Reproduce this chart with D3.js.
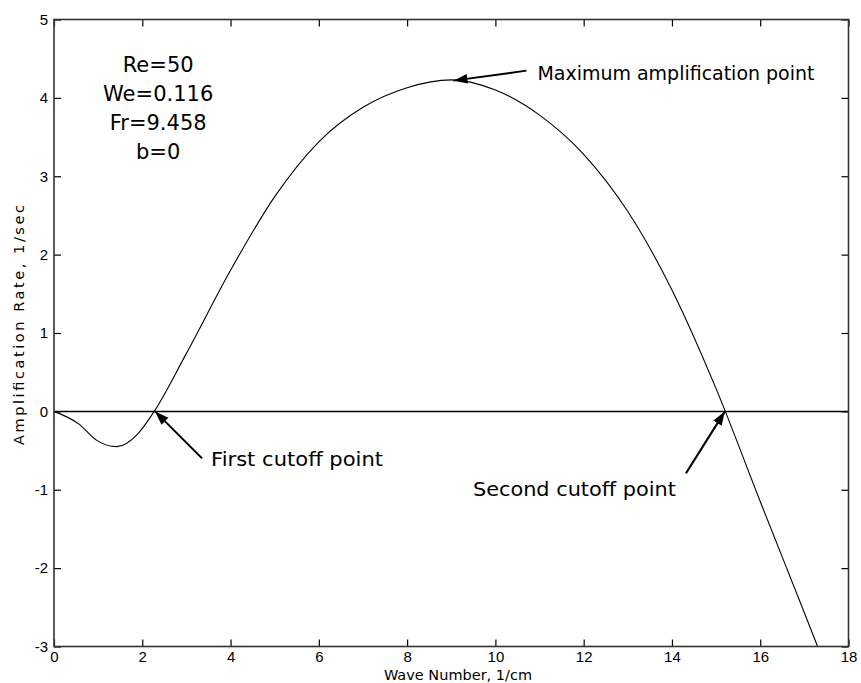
<!DOCTYPE html>
<html>
<head>
<meta charset="utf-8">
<script src="https://cdn.jsdelivr.net/npm/d3@7.9.0/dist/d3.min.js"></script>
<style>
  body { margin: 0; background: #fff; }
  svg { display: block; }
  .tick text { font-family: "Liberation Sans", Arial, sans-serif; font-size: 15px; fill: #000; }
  .note { font-family: "DejaVu Sans", sans-serif; fill: #000; }
  .title { font-family: "DejaVu Sans", sans-serif; font-size: 14.5px; fill: #000; }
</style>
</head>
<body>
<svg id="chart" width="861" height="683"></svg>
<script>
// wave number (1/cm) vs amplification rate (1/sec)
const waveNumber = [0, 0.56, 0.97, 1.42, 1.91, 2.27, 3, 4, 5, 6, 7, 8, 9, 10,
  11, 12, 13, 14, 15, 16, 17, 17.3];
const ampRate = [0, -0.16, -0.37, -0.45, -0.28, 0, 0.74, 1.80, 2.74, 3.44, 3.88, 4.13, 4.23, 4.10,
  3.78, 3.28, 2.55, 1.55, 0.29, -1.15, -2.57, -3.0];

const xTicks = [0, 2, 4, 6, 8, 10, 12, 14, 16, 18];
const yTicks = [-3, -2, -1, 0, 1, 2, 3, 4, 5];

const params = ['Re=50', 'We=0.116', 'Fr=9.458', 'b=0'];

// annotated points: label, arrow tip (data), tail offset (px), label offset from tip (px)
const notes = [
  { text: 'Maximum amplification point', x: 9.05, y: 4.22, tail: [73, -10], label: [84, -1], size: 19, len: 277 },
  { text: 'First cutoff point', x: 2.29, y: 0, tail: [47, 47], label: [56, 55], size: 20, len: 172 },
  { text: 'Second cutoff point', x: 15.2, y: 0, tail: [-39, 62], label: [-252, 85], size: 20, len: 203 }
];

const svg = d3.select('#chart');
const margin = { top: 19.5, right: 12.5, bottom: 36.5, left: 54 };
const width = 861 - margin.left - margin.right;
const height = 683 - margin.top - margin.bottom;

const g = svg.append('g').attr('transform', `translate(${margin.left},${margin.top})`);

const x = d3.scaleLinear().domain([0, 18]).range([0, width]);
const y = d3.scaleLinear().domain([-3, 5]).range([height, 0]);

// zero line
g.append('line')
  .attr('x1', x(0)).attr('x2', x(18))
  .attr('y1', y(0)).attr('y2', y(0))
  .attr('stroke', '#000').attr('stroke-width', 1.5);

// curve
const line = d3.line()
  .x((d, i) => x(waveNumber[i]))
  .y(d => y(d))
  .curve(d3.curveMonotoneX);

g.append('path')
  .datum(ampRate)
  .attr('d', line)
  .attr('fill', 'none')
  .attr('stroke', '#000')
  .attr('stroke-width', 1.1);

// axes (ticks inward, mirrored on top/right)
const axisStyle = sel => {
  sel.select('.domain').remove();
  sel.selectAll('.tick line').attr('stroke', '#000').attr('stroke-width', 1.2);
};
const plain = d => String(d); // keep ascii hyphen for negatives

g.append('g')
  .attr('transform', `translate(0,${height})`)
  .call(d3.axisBottom(x).tickValues(xTicks).tickFormat(plain).tickSizeInner(-7).tickSizeOuter(0).tickPadding(5))
  .call(axisStyle);

g.append('g')
  .call(d3.axisTop(x).tickValues(xTicks).tickSizeInner(-7).tickFormat(''))
  .call(axisStyle);

g.append('g')
  .call(d3.axisLeft(y).tickValues(yTicks).tickFormat(plain).tickSizeInner(-7).tickPadding(6))
  .call(axisStyle);

g.append('g')
  .attr('transform', `translate(${width},0)`)
  .call(d3.axisRight(y).tickValues(yTicks).tickSizeInner(-7).tickFormat(''))
  .call(axisStyle);

g.selectAll('.tick text').attr('fill', '#000');

// frame
g.append('rect')
  .attr('width', width).attr('height', height)
  .attr('fill', 'none')
  .attr('stroke', '#333').attr('stroke-width', 1.6);

// axis titles
svg.append('text')
  .attr('class', 'title')
  .attr('x', 458)
  .attr('y', 680)
  .attr('text-anchor', 'middle')
  .text('Wave Number, 1/cm');

svg.append('text')
  .attr('class', 'title')
  .attr('transform', `translate(24,325) rotate(-90)`)
  .attr('text-anchor', 'middle')
  .attr('textLength', 240)
  .attr('lengthAdjust', 'spacing')
  .text('Amplification Rate, 1/sec');

// parameter block
g.append('g').selectAll('text')
  .data(params)
  .join('text')
  .attr('class', 'note')
  .style('font-size', '21px')
  .attr('text-anchor', 'middle')
  .attr('x', x(2.36))
  .attr('y', (d, i) => y(4.33) + i * 29)
  .text(d => d);

// arrows
svg.append('defs').append('marker')
  .attr('id', 'head')
  .attr('viewBox', '0 0 10 10')
  .attr('refX', 10).attr('refY', 5)
  .attr('markerWidth', 7).attr('markerHeight', 7)
  .attr('markerUnits', 'strokeWidth')
  .attr('orient', 'auto')
  .append('path')
  .attr('d', 'M0,1.5 L10,5 L0,8.5 Z')
  .attr('fill', '#000');

const ann = g.append('g');
notes.forEach(n => {
  const tx = x(n.x), ty = y(n.y);
  ann.append('line')
    .attr('x1', tx + n.tail[0]).attr('y1', ty + n.tail[1])
    .attr('x2', tx).attr('y2', ty)
    .attr('stroke', '#000').attr('stroke-width', 2)
    .attr('marker-end', 'url(#head)');
  ann.append('text')
    .attr('class', 'note')
    .style('font-size', n.size + 'px')
    .attr('x', tx + n.label[0])
    .attr('y', ty + n.label[1])
    .attr('textLength', n.len)
    .attr('lengthAdjust', 'spacingAndGlyphs')
    .text(n.text);
});
</script>
</body>
</html>
